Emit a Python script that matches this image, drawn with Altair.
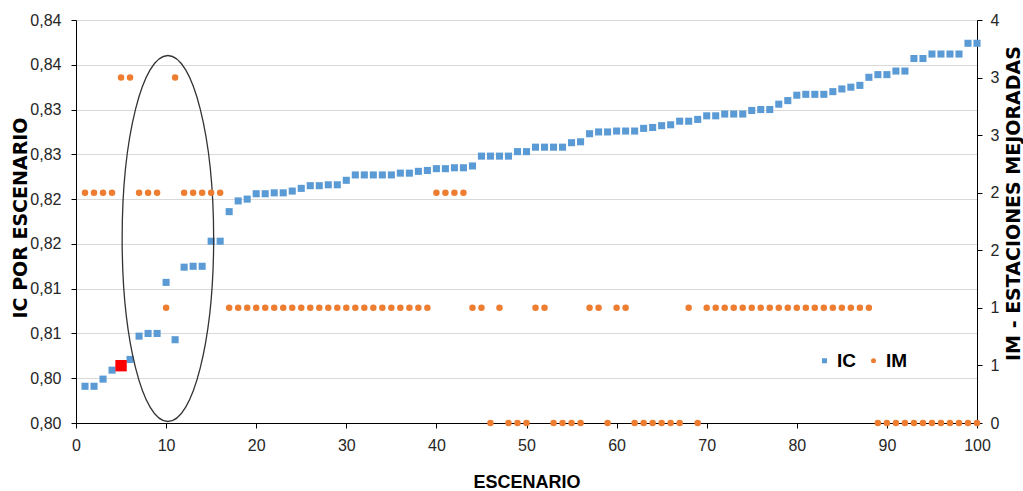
import altair as alt
import pandas as pd

# ---------------- data ----------------
escenario = list(range(1, 101))

ic = [
    0.8041, 0.8041, 0.8049, 0.8059, 0.8064, 0.8071, 0.8097, 0.8100, 0.8100, 0.8157,
    0.8093, 0.8174, 0.8175, 0.8175, 0.8203, 0.8203, 0.8236, 0.8248, 0.8250, 0.8256,
    0.8256, 0.8257, 0.8257, 0.8259, 0.8262, 0.8265, 0.8265, 0.8266, 0.8266, 0.8271,
    0.8277, 0.8277, 0.8277, 0.8277, 0.8277, 0.8279, 0.8279, 0.8281, 0.8282, 0.8284,
    0.8284, 0.8285, 0.8285, 0.8287, 0.8298, 0.8298, 0.8298, 0.8298, 0.8303, 0.8303,
    0.8308, 0.8308, 0.8308, 0.8308, 0.8313, 0.8314, 0.8323, 0.8325, 0.8325, 0.8326,
    0.8326, 0.8326, 0.8329, 0.8330, 0.8332, 0.8333, 0.8337, 0.8337, 0.8339, 0.8343,
    0.8343, 0.8345, 0.8345, 0.8345, 0.8349, 0.8350, 0.8350, 0.8356, 0.8360, 0.8366,
    0.8367, 0.8367, 0.8367, 0.8370, 0.8373, 0.8375, 0.8377, 0.8386, 0.8389, 0.8389,
    0.8393, 0.8393, 0.8407, 0.8407, 0.8412, 0.8412, 0.8412, 0.8412, 0.8424, 0.8424,
]

im = [
    2, 2, 2, 2, 3, 3, 2, 2, 2, 1,
    3, 2, 2, 2, 2, 2, 1, 1, 1, 1,
    1, 1, 1, 1, 1, 1, 1, 1, 1, 1,
    1, 1, 1, 1, 1, 1, 1, 1, 1, 2,
    2, 2, 2, 1, 1, 0, 1, 0, 0, 0,
    1, 1, 0, 0, 0, 0, 1, 1, 0, 1,
    1, 0, 0, 0, 0, 0, 0, 1, 0, 1,
    1, 1, 1, 1, 1, 1, 1, 1, 1, 1,
    1, 1, 1, 1, 1, 1, 1, 1, 0, 0,
    0, 0, 0, 0, 0, 0, 0, 0, 0, 0,
]

series_names = ["IC", "IM"]
series_colors = ["#5B9BD5", "#ED7D31"]
series_shapes = ["square", "circle"]

highlight_escenario = [5]          # red marked scenario

x_ticks = [0, 10, 20, 30, 40, 50, 60, 70, 80, 90, 100]
left_ticks = [0.800, 0.805, 0.810, 0.815, 0.820, 0.825, 0.830, 0.835, 0.840, 0.845]
left_labels = ["0,80", "0,80", "0,81", "0,81", "0,82", "0,82", "0,83", "0,83", "0,84", "0,84"]
right_ticks = [0, 0.5, 1, 1.5, 2, 2.5, 3, 3.5]
right_labels = ["0", "1", "1", "2", "2", "3", "3", "4"]

# annotation ellipse (centre in data units)
ellipse_x = [10.2]
ellipse_y = [0.8206]

# ---------------- tables ----------------
df_ic = pd.DataFrame({"escenario": escenario, "valor": ic, "serie": "IC"})
df_im = pd.DataFrame({"escenario": escenario, "valor": im, "serie": "IM"})
df_red = df_ic[df_ic["escenario"].isin(highlight_escenario)]
df_ell = pd.DataFrame({"escenario": ellipse_x, "valor": ellipse_y})

NARROW = "Liberation Sans, Arial, sans-serif"
WIDE = "DejaVu Sans, sans-serif"

left_expr = "[" + ",".join("'%s'" % s for s in left_labels) + "][round((datum.value - 0.8) / 0.005)]"
right_expr = "[" + ",".join("'%s'" % s for s in right_labels) + "][round(datum.value / 0.5)]"

x_enc = alt.X(
    "escenario:Q",
    scale=alt.Scale(domain=[0, 100], nice=False, zero=False),
    axis=alt.Axis(
        values=x_ticks, title="ESCENARIO", grid=False,
        titleFont=NARROW, titleFontSize=18, titleFontWeight="bold", titleColor="black",
        titleX=450.5, titleY=59, titleBaseline="middle", titleAlign="center",
        labelFont=NARROW, labelFontSize=16, labelColor="#262626", labelPadding=9,
        tickSize=5, domainColor="black", tickColor="black", labelFlush=False,
    ),
)

legend = alt.Legend(
    orient="none", legendX=739, legendY=331, direction="horizontal", title=None,
    symbolSize=25, symbolStrokeWidth=0, symbolOpacity=1,
    labelFont=NARROW, labelFontSize=19, labelFontWeight="bold", labelColor="black",
    labelOffset=3, columnPadding=8, padding=0,
)
color_enc = alt.Color("serie:N", scale=alt.Scale(domain=series_names, range=series_colors), legend=legend)
shape_enc = alt.Shape("serie:N", scale=alt.Scale(domain=series_names, range=series_shapes), legend=legend)

y_left = alt.Y(
    "valor:Q",
    scale=alt.Scale(domain=[0.8, 0.845], nice=False, zero=False),
    axis=alt.Axis(
        values=left_ticks, labelExpr=left_expr, title="IC POR ESCENARIO",
        grid=True, gridColor="#D9D9D9", gridWidth=1,
        titleFont=WIDE, titleFontSize=19, titleFontWeight="bold", titleColor="black",
        titleAngle=270, titleX=-55.5, titleY=197.5, titleBaseline="middle", titleAlign="center",
        labelFont=NARROW, labelFontSize=16, labelColor="#262626", labelPadding=10,
        tickSize=5, domainColor="black", tickColor="black", labelFlush=False,
    ),
)

y_right = alt.Y(
    "valor:Q",
    scale=alt.Scale(domain=[0, 3.5], nice=False, zero=False),
    axis=alt.Axis(
        orient="right", values=right_ticks, labelExpr=right_expr,
        title="IM - ESTACIONES MEJORADAS", grid=False,
        titleFont=WIDE, titleFontSize=19, titleFontWeight="bold", titleColor="black",
        titleAngle=270, titleX=36.5, titleY=183, titleBaseline="middle", titleAlign="center",
        labelFont=NARROW, labelFontSize=16, labelColor="#262626", labelPadding=8,
        tickSize=5, domainColor="black", tickColor="black", labelFlush=False,
    ),
)

ic_layer = alt.Chart(df_ic).mark_point(filled=True, opacity=1, size=50, strokeWidth=0).encode(
    x=x_enc, y=y_left, color=color_enc, shape=shape_enc
)

red_layer = alt.Chart(df_red).mark_point(
    shape="square", filled=True, color="#FF0000", size=130, opacity=1, strokeWidth=0
).encode(x=alt.X("escenario:Q"), y=alt.Y("valor:Q"))

a = 0.25
k = 0.5523
ellipse_path = (
    f"M {a} 0 C {a} {k} {k*a:.4f} 1 0 1 C {-k*a:.4f} 1 {-a} {k} {-a} 0 "
    f"C {-a} {-k} {-k*a:.4f} -1 0 -1 C {k*a:.4f} -1 {a} {-k} {a} 0 Z"
)
ellipse_layer = alt.Chart(df_ell).mark_point(
    shape=ellipse_path, filled=False, stroke="#333333", strokeWidth=1.3, size=366 * 366, opacity=1
).encode(x=alt.X("escenario:Q"), y=alt.Y("valor:Q"))

left = alt.layer(ic_layer, red_layer, ellipse_layer)

im_layer = alt.Chart(df_im).mark_point(filled=True, opacity=1, size=42, strokeWidth=0).encode(
    x=alt.X("escenario:Q", scale=alt.Scale(domain=[0, 100], nice=False, zero=False)),
    y=y_right, color=color_enc, shape=shape_enc,
)

chart = (
    alt.layer(left, im_layer)
    .resolve_scale(y="independent")
    .properties(
        width=901, height=403,
        autosize=alt.AutoSizeParams(type="none"),
        padding={"left": 76, "top": 20, "right": 46, "bottom": 68},
        background="white",
    )
    .configure_view(stroke=None)
)

chart.save("out.html", embed_options={"renderer": "svg", "actions": False})
